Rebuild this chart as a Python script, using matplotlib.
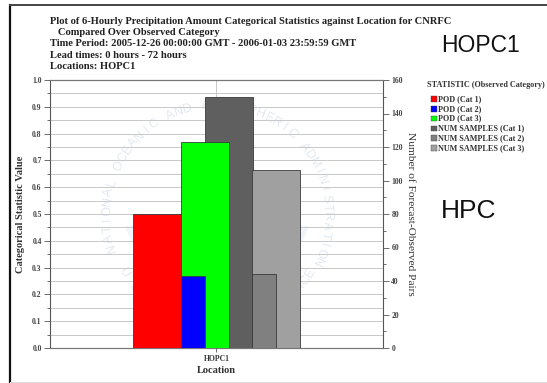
import numpy as np
import matplotlib
matplotlib.use("Agg")
import matplotlib.pyplot as plt
from matplotlib.patches import Rectangle, Wedge

# ---- data ----
location = ["HOPC1"]
pod_labels = ["POD (Cat 1)", "POD (Cat 2)", "POD (Cat 3)"]
pod_values = [0.50, 0.27, 0.77]
num_labels = ["NUM SAMPLES (Cat 1)", "NUM SAMPLES (Cat 2)", "NUM SAMPLES (Cat 3)"]
num_values = [150, 44, 106]

title_lines = [
    "Plot of 6-Hourly Precipitation Amount Categorical Statistics against Location for CNRFC",
    "   Compared Over Observed Category",
    "Time Period: 2005-12-26 00:00:00 GMT - 2006-01-03 23:59:59 GMT",
    "Lead times: 0 hours - 72 hours",
    "Locations: HOPC1",
]

# ---- styling ----
pod_colors = ["#ff0000", "#0000ff", "#00ff00"]
num_colors = ["#5f5f5f", "#808080", "#a0a0a0"]
SERIF = "Liberation Serif"
SANS = "Liberation Sans"

W, H = 547, 383
fig = plt.figure(figsize=(W / 100, H / 100), dpi=100)
fig.patch.set_facecolor("white")


def fx(px):
    return px / W


def fy(py):
    return 1 - py / H


# plot area in pixels
L, R, T, B = 50, 383, 80, 348
ax2 = fig.add_axes([fx(L), fy(B), (R - L) / W, (B - T) / H])   # sample counts (behind)
ax1 = fig.add_axes(ax2.get_position(), sharex=ax2)               # POD (front)
ax2.set_zorder(1)
ax1.set_zorder(2)
for a in (ax1, ax2):
    a.patch.set_visible(False)

# ---- watermark (behind everything) ----
cx, cy, rad = 217, 215, 110
wm_col = "#e2e9f3"
fig.patches.append(Wedge((fx(cx), fy(cy)), 0.17, 190, 350, transform=fig.transFigure,
                         facecolor="#f0f5fb", edgecolor="none", zorder=-3))


def arc_text(text, a0, a1, radius, top=True, size=9):
    angles = np.linspace(a0, a1, len(text))
    for ch, ang in zip(text, angles):
        t = np.deg2rad(ang)
        px = cx + radius * np.cos(t)
        py = cy - radius * np.sin(t)
        rot = ang - 90 if top else ang + 90
        fig.text(fx(px), fy(py), ch, rotation=rot, ha="center", va="center",
                 fontsize=size, family=SANS, color=wm_col, zorder=-2,
                 rotation_mode="anchor")


arc_text("NATIONAL OCEANIC AND ATMOSPHERIC ADMINISTRATION", 197, -25, rad, top=True)
arc_text("U.S. DEPARTMENT OF COMMERCE", 212, 328, rad, top=False)

# ---- bars ----
x = np.arange(len(location))
slot = 24 / (R - L)                     # one narrow slot in axis units
n_slots = 7
starts = {"pod": [0, 2, 2], "num": [3, 5, 5]}
widths = {"pod": [2, 1, 2], "num": [2, 1, 2]}
order_z = [3, 5, 4]                     # narrow (Cat 2) bars sit in front

for i in range(3):
    left = x - n_slots * slot / 2 + starts["num"][i] * slot
    ax2.bar(left, num_values[i], width=widths["num"][i] * slot, align="edge",
            color=num_colors[i], edgecolor="#3a3a3a", linewidth=0.6, zorder=order_z[i])
    left = x - n_slots * slot / 2 + starts["pod"][i] * slot
    ax1.bar(left, pod_values[i], width=widths["pod"][i] * slot, align="edge",
            color=pod_colors[i], edgecolor="#3a3a3a", linewidth=0.6, zorder=order_z[i])

ax1.set_xlim(-0.5, 0.5)
ax1.set_ylim(0, 1.0)
ax2.set_ylim(0, 160)

# grid: horizontal every 0.05 of the left scale, one vertical at the category
for g in np.arange(0, 1.0001, 0.05):
    ax2.axhline(g * 160, color="#c8c8c8", linewidth=0.7, zorder=0)
ax2.axvline(x[0], color="#c8c8c8", linewidth=0.7, zorder=0)

# ---- axes / ticks ----
tick_font = dict(family=SERIF, weight="bold", size=5.5)
ax1.set_yticks(np.arange(0, 1.01, 0.1))
ax1.set_yticks(np.arange(0, 1.01, 0.05), minor=True)
ax1.set_yticklabels([f"{v:.1f}" for v in np.arange(0, 1.01, 0.1)], **tick_font)
ax1.set_xticks(x)
ax1.set_xticklabels(location, **tick_font)
ax1.tick_params(axis="y", which="major", length=4, width=0.6, pad=2, colors="#555555",
                labelcolor="#444444")
ax1.tick_params(axis="y", which="minor", length=2, width=0.6, colors="#555555")
ax1.tick_params(axis="x", length=3, width=0.6, pad=2, colors="#555555", labelcolor="#333333")

ax2.yaxis.tick_right()
ax2.yaxis.set_label_position("right")
ax2.set_yticks(np.arange(0, 161, 20))
ax2.set_yticks(np.arange(0, 161, 10), minor=True)
ax2.set_yticklabels([str(v) for v in range(0, 161, 20)], **tick_font)
ax2.tick_params(axis="y", which="major", length=4, width=0.6, pad=2, colors="#555555",
                labelcolor="#444444")
ax2.tick_params(axis="y", which="minor", length=2, width=0.6, colors="#555555")
ax2.tick_params(axis="x", bottom=False, labelbottom=False)

for a in (ax1, ax2):
    for s in a.spines.values():
        s.set_color("#777777")
        s.set_linewidth(0.8)
ax1.spines["right"].set_visible(False)
ax2.spines["left"].set_visible(False)
ax1.spines["left"].set_color("#555555")
ax2.spines["right"].set_color("#555555")

ax1.set_ylabel("Categorical Statistic Value", family=SERIF, weight="bold", size=7.5,
               color="#333333", labelpad=5)
ax1.set_xlabel("Location", family=SERIF, weight="bold", size=7.5, color="#333333",
               labelpad=2)
ax2.set_ylabel("Number of Forecast-Observed Pairs", family=SERIF, size=8.2,
               color="#333333", rotation=-90, labelpad=9)

# ---- header text ----
for line, py in zip(title_lines, [21, 32.5, 44, 55.5, 66.5]):
    fig.text(fx(50), fy(py), line, family=SERIF, weight="bold", size=7.6,
             color="#222222", ha="left", va="center")

fig.text(fx(441), fy(45), "HOPC1", family=SANS, size=16.5, color="#111111",
         ha="left", va="center")
fig.text(fx(441), fy(211), "HPC", family=SANS, size=19, color="#111111",
         ha="left", va="center")

# ---- legend ----
leg_font = dict(family=SERIF, weight="bold", size=5.9, color="#333333")
fig.text(fx(427), fy(85), "STATISTIC (Observed Category)", ha="left", va="center",
         **leg_font)
labels = pod_labels + num_labels
colors = pod_colors + num_colors
for k, (lab, col) in enumerate(zip(labels, colors)):
    py = 99 + k * 9.8
    fig.patches.append(Rectangle((fx(431), fy(py + 2.8)), 5.5 / W, 5.5 / H,
                                 transform=fig.transFigure, facecolor=col,
                                 edgecolor="#444444", linewidth=0.3))
    fig.text(fx(438), fy(py), lab, ha="left", va="center", **leg_font)

# ---- outer frame ----
fig.add_artist(plt.Line2D([fx(10), fx(10)], [fy(5), 0], transform=fig.transFigure,
                          color="#111111", linewidth=1.6))
fig.add_artist(plt.Line2D([fx(10), 1], [fy(5), fy(5)], transform=fig.transFigure,
                          color="#444444", linewidth=1.4))
fig.add_artist(plt.Line2D([fx(10), 1], [fy(382), fy(382)], transform=fig.transFigure,
                          color="#dddddd", linewidth=0.8))

fig.savefig("out.png", dpi=100, facecolor="white")
